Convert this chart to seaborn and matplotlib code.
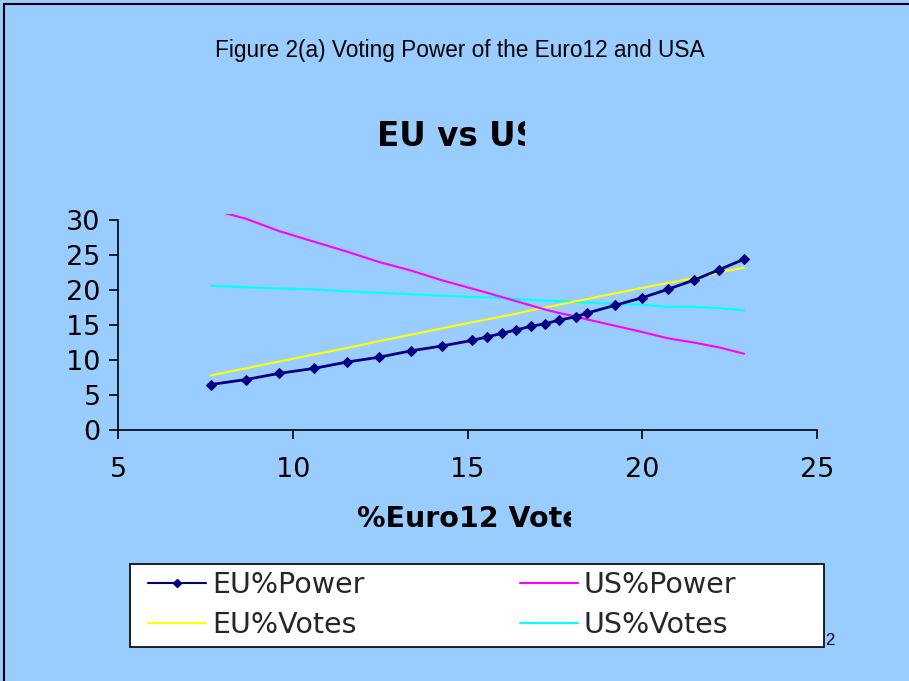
import numpy as np
import matplotlib
matplotlib.use("Agg")
import matplotlib.pyplot as plt
import matplotlib.lines as mlines
import matplotlib.patches as mpatches
from matplotlib.transforms import Bbox, TransformedBbox
import pandas as pd
import seaborn as sns

#-------------------------------------Dados---------------------------------------------
euro12_vote = [7.66, 8.65, 9.62, 10.61, 11.54, 12.47, 13.37, 14.26, 15.13, 15.56, 15.98, 16.39,
               16.81, 17.23, 17.63, 18.11, 18.42, 19.21, 20.0, 20.73, 21.47, 22.2, 22.91]
eu_power = [6.5, 7.2, 8.1, 8.8, 9.7, 10.4, 11.3, 12.0, 12.8, 13.3, 13.8, 14.3,
            14.8, 15.2, 15.7, 16.2, 16.7, 17.8, 18.9, 20.1, 21.4, 22.9, 24.4]
us_power = [31.5, 30.2, 28.4, 26.9, 25.5, 24.0, 22.8, 21.4, 20.2, 19.6, 19.0, 18.4,
            17.8, 17.2, 16.7, 16.2, 15.8, 14.9, 14.0, 13.1, 12.5, 11.8, 10.9]
eu_votes = [7.8, 8.8, 9.8, 10.8, 11.7, 12.7, 13.6, 14.5, 15.4, 15.8, 16.2, 16.6,
            17.1, 17.5, 17.9, 18.4, 18.7, 19.5, 20.3, 21.0, 21.7, 22.5, 23.2]
us_votes = [20.6, 20.4, 20.2, 20.1, 19.8, 19.6, 19.4, 19.2, 19.0, 18.95, 18.85, 18.7,
            18.6, 18.5, 18.4, 18.3, 18.2, 18.0, 17.9, 17.6, 17.6, 17.4, 17.1]

x_ticks = [5, 10, 15, 20, 25]
y_ticks = [0, 5, 10, 15, 20, 25, 30]

df = pd.DataFrame({'x': euro12_vote, 'EU%Power': eu_power, 'US%Power': us_power,
                   'EU%Votes': eu_votes, 'US%Votes': us_votes})

#-------------------------------------Estilo---------------------------------------------
BG = '#99CCFF'
W, H = 909, 681
sns.set_theme(style="ticks")
plt.rcParams['font.family'] = ['DejaVu Sans']

cores = {'EU%Power': '#000080', 'US%Power': '#FF00FF', 'EU%Votes': '#FFFF00', 'US%Votes': '#00FFFF'}

fig = plt.figure(figsize=(W / 100, H / 100), dpi=100, facecolor=BG)
ax = fig.add_axes([118 / W, (H - 430) / H, 699 / W, 215.6 / H])
ax.set_facecolor(BG)

estilos = {
    'EU%Power': dict(linewidth=2.0, marker='D', markersize=5.5, markeredgecolor=cores['EU%Power']),
    'US%Power': dict(linewidth=1.5),
    'EU%Votes': dict(linewidth=1.5),
    'US%Votes': dict(linewidth=1.5),
}
for nome in ['US%Votes', 'EU%Votes', 'US%Power', 'EU%Power']:
    sns.lineplot(data=df, x='x', y=nome, ax=ax, sort=False, color=cores[nome], **estilos[nome])

ax.set_xlim(5, 25)
ax.set_ylim(0, 30.8)
ax.set_xticks(x_ticks)
ax.set_yticks(y_ticks)
ax.set_xlabel('')
ax.set_ylabel('')
for s in ['top', 'right']:
    ax.spines[s].set_visible(False)
for s in ['left', 'bottom']:
    ax.spines[s].set_color('black')
    ax.spines[s].set_linewidth(1.2)
ax.spines['left'].set_bounds(0, 30)
ax.tick_params(axis='both', direction='out', length=6.5, width=1.2, colors='black',
               labelsize=19.5)
ax.tick_params(axis='x', pad=13)
ax.tick_params(axis='y', pad=6)
ax.grid(False)

# titulo da figura
fig.text(460 / W, 1 - 50 / H, 'Figure 2(a) Voting Power of the Euro12 and USA',
         ha='center', va='center', fontsize=16.3, family='Liberation Sans', color='black')

# titulo do grafico (cortado como no original)
t = fig.text(377 / W, 1 - 146 / H, 'EU vs US', ha='left', va='baseline',
             fontsize=23.5, fontweight='bold', color='black')
t.set_clip_box(TransformedBbox(Bbox([[0, 0], [525 / W, 1]]), fig.transFigure))
t.set_clip_on(True)

# rotulo do eixo x (cortado)
xl = fig.text(357 / W, 1 - 527 / H, '%Euro12 Vote', ha='left', va='baseline',
              fontsize=20.5, fontweight='bold', color='black')
xl.set_clip_box(TransformedBbox(Bbox([[0, 0], [571 / W, 1]]), fig.transFigure))
xl.set_clip_on(True)

# numero da pagina atras da legenda
fig.text(825 / W, 1 - 645 / H, '2', ha='left', va='baseline', fontsize=12,
         family='Liberation Sans', color='black', zorder=1)

# caixa da legenda
fig.add_artist(mpatches.Rectangle((130 / W, (H - 647) / H), 694 / W, 83 / H,
                                  transform=fig.transFigure, facecolor='white',
                                  edgecolor='black', linewidth=1.2, zorder=2))

# legenda preenchida por coluna: EU na primeira, US na segunda
ordem = ['EU%Power', 'EU%Votes', 'US%Power', 'US%Votes']
handles = []
for nome in ordem:
    if nome == 'EU%Power':
        handles.append(mlines.Line2D([], [], color=cores[nome], linewidth=1.5, marker='D', markersize=4))
    else:
        handles.append(mlines.Line2D([], [], color=cores[nome], linewidth=1.5))
leg = fig.legend(handles, ordem, loc='upper left', bbox_to_anchor=(148 / W, 1 - 571 / H), ncol=2,
                 frameon=False, fontsize=20.5, borderpad=0, borderaxespad=0,
                 handlelength=2.03, handletextpad=0.21, labelspacing=0.42,
                 columnspacing=5.47)
leg.set_zorder(3)

# borda externa
fig.add_artist(mlines.Line2D([4 / W, 1], [1 - 4 / H, 1 - 4 / H], transform=fig.transFigure,
                             color='black', linewidth=1.5))
fig.add_artist(mlines.Line2D([4 / W, 4 / W], [0, 1 - 4 / H], transform=fig.transFigure,
                             color='black', linewidth=1.5))

fig.savefig('out.png', dpi=100, facecolor=BG)
